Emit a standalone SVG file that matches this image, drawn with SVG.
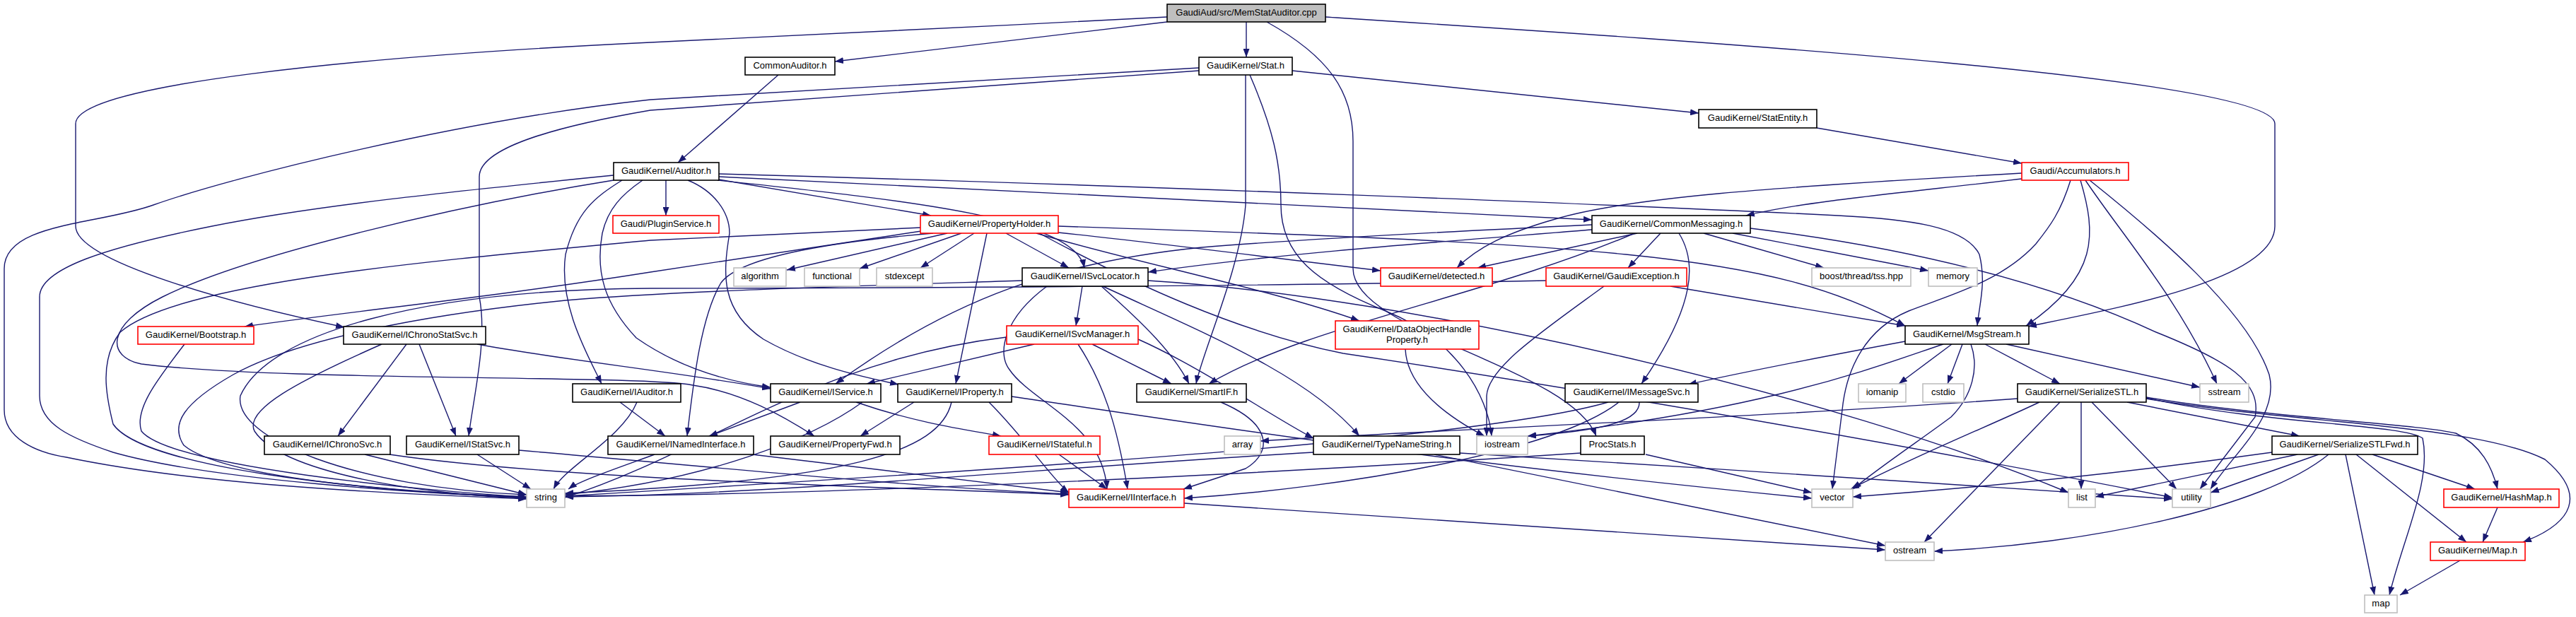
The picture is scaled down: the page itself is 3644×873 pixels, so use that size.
<svg xmlns="http://www.w3.org/2000/svg" width="3644" height="873" viewBox="0 0 3644 873">
<defs>
<style>
.e{fill:none;stroke:#191970;stroke-width:1.4;marker-end:url(#ah)}
.n rect{fill:#fff;stroke:#000;stroke-width:1.6}
.r rect{fill:#fff;stroke:#ff0000;stroke-width:1.6}
.g rect{fill:#fff;stroke:#bfbfbf;stroke-width:1.6}
.root rect{fill:#bfbfbf;stroke:#000;stroke-width:1.6}
text{font-family:"Liberation Sans",Arial,sans-serif;font-size:13px;fill:#000;text-anchor:middle}
</style>
<marker id="ah" viewBox="0 0 12 9" refX="12" refY="4.5" markerWidth="12" markerHeight="9" markerUnits="userSpaceOnUse" orient="auto">
<path d="M0,0 L12,4.5 L0,9 z" fill="#191970"/>
</marker>
</defs>
<rect x="0" y="0" width="3644" height="873" fill="#fff"/>
<g id="connectors">
<path class="e" d="M1651,31 L1181,87"/>
<path class="e" d="M1763,31 L1763,81"/>
<path class="e" d="M1651,24 C1400,37 1100,52 920,60 C500,80 107,120 107,175 L107,320 C107,370 330,430 487,463"/>
<path class="e" d="M1875,24 C2400,58 3218,110 3218,175 L3218,320 C3218,395 3000,435 2869,462"/>
<path class="e" d="M1792,31 C1880,80 1914,130 1914,200 L1914,380 C1914,470 2220,520 2258,617"/>
<path class="e" d="M1828,100 L2403,160"/>
<path class="e" d="M1696,96 L920,141 C650,170 330,250 217,290 C140,318 6,315 6,380 L6,580 C6,620 50,640 94,647 C300,690 600,700 745,706"/>
<path class="e" d="M1696,100 L920,156 C780,180 678,210 678,250 L678,420 C690,480 670,560 663,617"/>
<path class="e" d="M1762,106 L1762,290 C1755,380 1700,500 1692,543"/>
<path class="e" d="M1768,106 C1800,180 1812,230 1812,290 C1812,360 1860,400 1960,440 C2060,480 2105,560 2110,617"/>
<path class="e" d="M2570,181 L2860,231"/>
<path class="e" d="M1101,106 L959,230"/>
<path class="e" d="M2860,253 C2700,272 2550,285 2470,305"/>
<path class="e" d="M2860,245 C2500,265 2300,280 2200,310 C2130,330 2090,350 2061,379"/>
<path class="e" d="M2929,255 C2915,300 2900,320 2880,345 C2830,400 2750,420 2700,440 C2640,465 2612,520 2606,580 L2592,692"/>
<path class="e" d="M2943,255 C2965,330 2970,390 2866,461"/>
<path class="e" d="M2950,255 C3000,330 3080,420 3136,543"/>
<path class="e" d="M2956,255 C3050,330 3180,440 3210,530 C3225,590 3160,640 3127,692"/>
<path class="e" d="M942,255 L942,305"/>
<path class="e" d="M1017,254 L1317,305"/>
<path class="e" d="M1017,250 C1500,270 1900,290 2252,311"/>
<path class="e" d="M1017,246 C1600,262 2300,290 2600,305 C2700,310 2780,320 2800,360 C2810,400 2800,430 2797,461"/>
<path class="e" d="M880,255 C840,280 815,300 800,360 C790,430 830,500 851,543"/>
<path class="e" d="M909,255 C880,275 860,295 852,330 C842,385 855,430 900,478 C960,520 1030,540 1090,548"/>
<path class="e" d="M1015,255 C1300,285 1520,310 1534,379"/>
<path class="e" d="M973,255 C1010,270 1032,300 1032,330 C1022,390 1020,440 1080,480 C1150,520 1230,535 1271,544"/>
<path class="e" d="M868,255 C650,290 350,360 230,420 C150,460 150,505 200,515 C400,540 900,530 980,545 C1050,555 1110,590 1152,617"/>
<path class="e" d="M868,248 C650,270 450,290 300,320 C150,350 56,380 56,420 L56,560 C56,600 100,620 160,640 C300,680 600,698 745,704"/>
<path class="e" d="M1340,330 L1113,382"/>
<path class="e" d="M1360,330 L1216,380"/>
<path class="e" d="M1378,330 L1302,379"/>
<path class="e" d="M1423,330 L1512,379"/>
<path class="e" d="M1396,330 L1352,543"/>
<path class="e" d="M1303,322 L920,340 C600,370 250,400 170,470 C140,510 150,560 160,600 C200,660 500,695 745,703"/>
<path class="e" d="M1303,327 L920,385 C700,420 500,440 346,462"/>
<path class="e" d="M1320,330 C1200,340 1050,360 1020,400 C990,450 980,550 972,617"/>
<path class="e" d="M1466,330 C1600,370 1800,410 1923,454"/>
<path class="e" d="M1497,329 C1650,345 1800,365 1953,383"/>
<path class="e" d="M1497,320 C1800,330 2100,340 2300,360 C2500,380 2600,410 2695,461"/>
<path class="e" d="M1470,330 C1600,400 1750,470 1900,500 C2300,560 2750,640 3073,704"/>
<path class="e" d="M2316,330 L2090,379"/>
<path class="e" d="M2349,330 L2303,379"/>
<path class="e" d="M2410,330 L2580,379"/>
<path class="e" d="M2451,330 L2728,383"/>
<path class="e" d="M2375,330 C2400,370 2400,430 2322,543"/>
<path class="e" d="M2252,325 C2000,345 1800,360 1624,385"/>
<path class="e" d="M2252,318 C2000,330 1820,340 1700,350 C1500,370 1350,420 1182,543"/>
<path class="e" d="M2310,331 C2100,420 1850,460 1710,543"/>
<path class="e" d="M2476,323 C2700,350 2900,400 3050,470 C3150,510 3200,540 3190,590 L3112,692"/>
<path class="e" d="M1531,405 L1522,461"/>
<path class="e" d="M1558,405 C1620,460 1660,500 1682,543"/>
<path class="e" d="M1560,405 C1700,470 1850,530 1923,617"/>
<path class="e" d="M1481,405 C1420,450 1410,500 1428,523 C1460,570 1560,600 1566,692"/>
<path class="e" d="M1446,397 C1200,405 950,412 800,425 C600,445 420,480 330,530 C260,570 240,600 260,630 C320,680 600,698 745,704"/>
<path class="e" d="M1624,397 C2000,420 2600,560 2926,697"/>
<path class="e" d="M1463,487 L1226,543"/>
<path class="e" d="M1525,487 C1560,540 1580,600 1595,692"/>
<path class="e" d="M1545,487 L1657,543"/>
<path class="e" d="M1424,477 C1150,510 1000,640 799,704"/>
<path class="e" d="M1610,480 C1700,520 1800,590 1858,620"/>
<path class="e" d="M2695,483 C2550,510 2450,530 2388,544"/>
<path class="e" d="M2808,487 L2914,543"/>
<path class="e" d="M2761,487 L2686,543"/>
<path class="e" d="M2776,487 L2755,543"/>
<path class="e" d="M2838,487 L3112,548"/>
<path class="e" d="M2788,487 C2800,520 2790,560 2760,590 C2720,620 2660,660 2621,692"/>
<path class="e" d="M2749,487 C2650,520 2500,580 2161,617"/>
<path class="e" d="M2854,564 C2500,590 2000,610 1783,624"/>
<path class="e" d="M2885,569 C2820,600 2720,640 2618,692"/>
<path class="e" d="M2914,569 L2722,767"/>
<path class="e" d="M2944,569 L2944,692"/>
<path class="e" d="M2959,569 L3079,692"/>
<path class="e" d="M3009,569 L3253,617"/>
<path class="e" d="M3036,562 C3200,590 3420,600 3474,613 C3510,630 3525,660 3533,692"/>
<path class="e" d="M3036,564 C3250,600 3500,600 3600,650 C3660,700 3640,740 3569,767"/>
<path class="e" d="M3036,563 C3200,600 3400,600 3427,620 C3440,680 3400,760 3380,842"/>
<path class="e" d="M3250,643 L2964,703"/>
<path class="e" d="M3280,643 L3127,697"/>
<path class="e" d="M3214,640 C3000,670 2800,690 2621,703"/>
<path class="e" d="M3294,643 C3200,720 2950,770 2736,780"/>
<path class="e" d="M3318,643 L3359,842"/>
<path class="e" d="M3333,643 L3489,767"/>
<path class="e" d="M3356,643 L3501,692"/>
<path class="e" d="M3533,718 L3512,767"/>
<path class="e" d="M3480,793 L3395,842"/>
<path class="e" d="M877,569 L941,617"/>
<path class="e" d="M901,569 C880,620 800,660 783,692"/>
<path class="e" d="M1132,569 L1003,617"/>
<path class="e" d="M1211,569 C1300,600 1380,610 1416,617"/>
<path class="e" d="M1220,569 C1150,620 1000,680 799,700"/>
<path class="e" d="M1293,569 L1217,617"/>
<path class="e" d="M1346,569 C1330,640 1200,680 799,698"/>
<path class="e" d="M1399,569 C1450,620 1490,680 1512,697"/>
<path class="e" d="M1431,561 C1700,600 2000,650 2563,705"/>
<path class="e" d="M575,487 L478,617"/>
<path class="e" d="M593,487 L645,617"/>
<path class="e" d="M540,487 C420,540 345,580 360,610 C400,670 600,700 745,705"/>
<path class="e" d="M675,487 C800,510 950,525 1090,550"/>
<path class="e" d="M516,643 L745,700"/>
<path class="e" d="M551,643 C800,680 1300,690 1512,700"/>
<path class="e" d="M675,643 L751,692"/>
<path class="e" d="M734,637 C1000,660 1300,690 1512,699"/>
<path class="e" d="M926,643 C880,660 820,680 804,692"/>
<path class="e" d="M1064,643 L1512,697"/>
<path class="e" d="M1498,643 L1566,692"/>
<path class="e" d="M1727,569 C1800,600 1800,640 1762,663 L1674,692"/>
<path class="e" d="M1858,640 C1500,660 1100,700 799,703"/>
<path class="e" d="M2029,643 L2667,772"/>
<path class="e" d="M2065,641 C2400,660 2800,690 3073,706"/>
<path class="e" d="M1675,712 L2667,778"/>
<path class="e" d="M2275,569 C2100,620 1500,660 799,702"/>
<path class="e" d="M2290,569 C2200,640 1900,690 1675,705"/>
<path class="e" d="M2319,569 C2320,600 2250,610 2161,617"/>
<path class="e" d="M2328,643 L2563,697"/>
<path class="e" d="M2236,641 C1800,670 1200,700 799,702"/>
<path class="e" d="M1988,494 C1990,540 2030,580 2100,617"/>
<path class="e" d="M2187,397 C1800,405 1200,408 920,408 C600,410 380,470 340,560 C330,620 500,690 745,700"/>
<path class="e" d="M2269,405 C2180,470 2105,520 2103,560 L2103,617"/>
<path class="e" d="M2363,405 L2695,461"/>
<path class="e" d="M261,487 C220,540 190,580 200,610 C240,660 600,695 745,703"/>
</g>
<g id="node0" class="root"><rect x="1651" y="6" width="224" height="25"/><text x="1763" y="22">GaudiAud/src/MemStatAuditor.cpp</text></g>
<g id="node1" class="n"><rect x="1054" y="81" width="127" height="25"/><text x="1117.5" y="97">CommonAuditor.h</text></g>
<g id="node2" class="n"><rect x="1696" y="81" width="132" height="25"/><text x="1762" y="97">GaudiKernel/Stat.h</text></g>
<g id="node3" class="n"><rect x="2403" y="155" width="167" height="26"/><text x="2486.5" y="171">GaudiKernel/StatEntity.h</text></g>
<g id="node4" class="n"><rect x="868" y="230" width="149" height="25"/><text x="942.5" y="246">GaudiKernel/Auditor.h</text></g>
<g id="node5" class="r"><rect x="2860" y="230" width="151" height="25"/><text x="2935.5" y="246">Gaudi/Accumulators.h</text></g>
<g id="node6" class="r"><rect x="867" y="305" width="150" height="25"/><text x="942" y="321">Gaudi/PluginService.h</text></g>
<g id="node7" class="r"><rect x="1302" y="305" width="195" height="25"/><text x="1399.5" y="321">GaudiKernel/PropertyHolder.h</text></g>
<g id="node8" class="n"><rect x="2252" y="305" width="224" height="25"/><text x="2364" y="321">GaudiKernel/CommonMessaging.h</text></g>
<g id="node9" class="g"><rect x="1038" y="379" width="74" height="26"/><text x="1075" y="395">algorithm</text></g>
<g id="node10" class="g"><rect x="1138" y="379" width="78" height="26"/><text x="1177" y="395">functional</text></g>
<g id="node11" class="g"><rect x="1240" y="379" width="79" height="26"/><text x="1279.5" y="395">stdexcept</text></g>
<g id="node12" class="n"><rect x="1446" y="379" width="178" height="26"/><text x="1535" y="395">GaudiKernel/ISvcLocator.h</text></g>
<g id="node13" class="r"><rect x="1953" y="379" width="158" height="26"/><text x="2032" y="395">GaudiKernel/detected.h</text></g>
<g id="node14" class="r"><rect x="2187" y="379" width="199" height="26"/><text x="2286.5" y="395">GaudiKernel/GaudiException.h</text></g>
<g id="node15" class="g"><rect x="2563" y="379" width="140" height="26"/><text x="2633" y="395">boost/thread/tss.hpp</text></g>
<g id="node16" class="g"><rect x="2728" y="379" width="69" height="26"/><text x="2762.5" y="395">memory</text></g>
<g id="node17" class="r"><rect x="195" y="462" width="164" height="25"/><text x="277" y="478">GaudiKernel/Bootstrap.h</text></g>
<g id="node18" class="n"><rect x="486" y="462" width="201" height="25"/><text x="586.5" y="478">GaudiKernel/IChronoStatSvc.h</text></g>
<g id="node19" class="r"><rect x="1889" y="454" width="203" height="40"/><text x="1990.5" y="470">GaudiKernel/DataObjectHandle</text><text x="1990.5" y="485">Property.h</text></g>
<g id="node20" class="r"><rect x="1424" y="461" width="186" height="26"/><text x="1517" y="477">GaudiKernel/ISvcManager.h</text></g>
<g id="node21" class="n"><rect x="2695" y="461" width="175" height="26"/><text x="2782.5" y="477">GaudiKernel/MsgStream.h</text></g>
<g id="node22" class="n"><rect x="810" y="543" width="153" height="26"/><text x="886.5" y="559">GaudiKernel/IAuditor.h</text></g>
<g id="node23" class="n"><rect x="1090" y="543" width="156" height="26"/><text x="1168" y="559">GaudiKernel/IService.h</text></g>
<g id="node24" class="n"><rect x="1270" y="543" width="161" height="26"/><text x="1350.5" y="559">GaudiKernel/IProperty.h</text></g>
<g id="node25" class="n"><rect x="1608" y="543" width="155" height="26"/><text x="1685.5" y="559">GaudiKernel/SmartIF.h</text></g>
<g id="node26" class="n"><rect x="2214" y="543" width="188" height="26"/><text x="2308" y="559">GaudiKernel/IMessageSvc.h</text></g>
<g id="node27" class="g"><rect x="2629" y="543" width="67" height="26"/><text x="2662.5" y="559">iomanip</text></g>
<g id="node28" class="g"><rect x="2720" y="543" width="58" height="26"/><text x="2749" y="559">cstdio</text></g>
<g id="node29" class="n"><rect x="2854" y="543" width="182" height="26"/><text x="2945" y="559">GaudiKernel/SerializeSTL.h</text></g>
<g id="node30" class="g"><rect x="3112" y="543" width="69" height="26"/><text x="3146.5" y="559">sstream</text></g>
<g id="node31" class="n"><rect x="374" y="617" width="178" height="26"/><text x="463" y="633">GaudiKernel/IChronoSvc.h</text></g>
<g id="node32" class="n"><rect x="575" y="617" width="159" height="26"/><text x="654.5" y="633">GaudiKernel/IStatSvc.h</text></g>
<g id="node33" class="n"><rect x="860" y="617" width="206" height="26"/><text x="963" y="633">GaudiKernel/INamedInterface.h</text></g>
<g id="node34" class="n"><rect x="1090" y="617" width="183" height="26"/><text x="1181.5" y="633">GaudiKernel/PropertyFwd.h</text></g>
<g id="node35" class="r"><rect x="1399" y="617" width="157" height="26"/><text x="1477.5" y="633">GaudiKernel/IStateful.h</text></g>
<g id="node36" class="g"><rect x="1732" y="617" width="51" height="26"/><text x="1757.5" y="633">array</text></g>
<g id="node37" class="n"><rect x="1858" y="617" width="207" height="26"/><text x="1961.5" y="633">GaudiKernel/TypeNameString.h</text></g>
<g id="node38" class="g"><rect x="2089" y="617" width="72" height="26"/><text x="2125" y="633">iostream</text></g>
<g id="node39" class="n"><rect x="2236" y="617" width="90" height="26"/><text x="2281" y="633">ProcStats.h</text></g>
<g id="node40" class="n"><rect x="3214" y="617" width="206" height="26"/><text x="3317" y="633">GaudiKernel/SerializeSTLFwd.h</text></g>
<g id="node41" class="g"><rect x="745" y="692" width="54" height="26"/><text x="772" y="708">string</text></g>
<g id="node42" class="r"><rect x="1512" y="692" width="163" height="26"/><text x="1593.5" y="708">GaudiKernel/IInterface.h</text></g>
<g id="node43" class="g"><rect x="2563" y="692" width="58" height="26"/><text x="2592" y="708">vector</text></g>
<g id="node44" class="g"><rect x="2926" y="692" width="38" height="26"/><text x="2945" y="708">list</text></g>
<g id="node45" class="g"><rect x="3073" y="692" width="54" height="26"/><text x="3100" y="708">utility</text></g>
<g id="node46" class="r"><rect x="3457" y="692" width="163" height="26"/><text x="3538.5" y="708">GaudiKernel/HashMap.h</text></g>
<g id="node47" class="g"><rect x="2667" y="767" width="69" height="26"/><text x="2701.5" y="783">ostream</text></g>
<g id="node48" class="r"><rect x="3438" y="767" width="134" height="26"/><text x="3505" y="783">GaudiKernel/Map.h</text></g>
<g id="node49" class="g"><rect x="3345" y="842" width="46" height="25"/><text x="3368" y="858">map</text></g>
</svg>
